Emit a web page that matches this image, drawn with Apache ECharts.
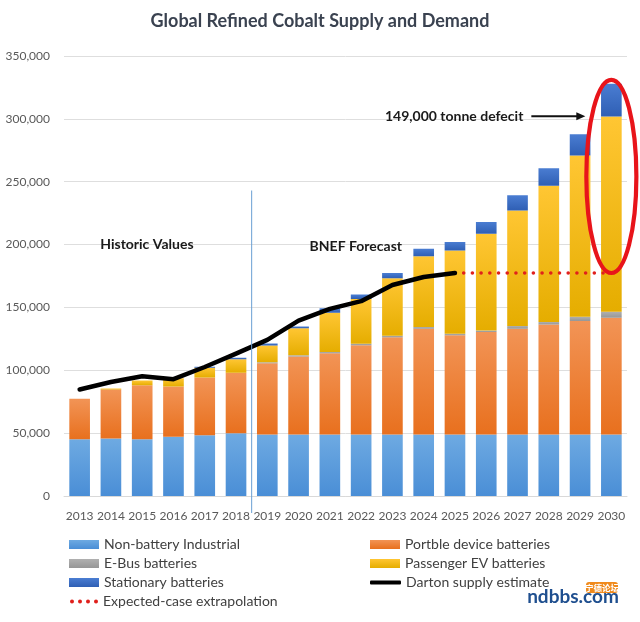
<!DOCTYPE html>
<html>
<head>
<meta charset="utf-8">
<script src="https://cdn.jsdelivr.net/npm/echarts@6/dist/echarts.min.js"></script>
<style>
html,body{margin:0;padding:0;background:#fff;}
#c{width:640px;height:622px;}
</style>
</head>
<body>
<div id="c"></div>
<script>
const years = ['2013','2014','2015','2016','2017','2018','2019','2020','2021','2022','2023','2024','2025','2026','2027','2028','2029','2030'];
const yTicks = [0,50000,100000,150000,200000,250000,300000,350000];
const nonBattery = [45200,45800,45200,47100,48400,50000,49000,49000,49000,49000,49000,49000,49000,49000,49000,49000,49000,49000];
const portable = [32100,38900,42900,40000,45800,48000,56500,61900,64500,71000,77300,84100,78800,81400,84100,87500,90200,92800];
const eBus = [0,0,0,0,0,0,800,1000,1000,1200,1200,1300,1300,1300,2100,1900,3400,4800];
const passengerEV = [0,800,3700,6600,7900,10800,13500,21600,31300,35600,45700,56300,66100,77000,92000,108400,128300,155300];
const stationary = [0,0,0,0,800,1200,1600,1300,3500,3400,4200,5900,6900,9300,12000,14000,16900,26000];
const dartonSupply = [84700,90700,95200,92900,102600,113200,124200,139500,148800,155000,167800,174200,177400,null,null,null,null,null];
const extrapolation = [null,null,null,null,null,null,null,null,null,null,null,null,177400,177400,177400,177400,177400,177400];
const deficitLabel = '149,000 tonne defecit';

const FONT = 'Lato';
function vgrad(top, bottom){
  return new echarts.graphic.LinearGradient(0,0,0,1,[{offset:0,color:top},{offset:1,color:bottom}]);
}
const chart = echarts.init(document.getElementById('c'), null, {renderer:'canvas'});
const barBase = {type:'bar', stack:'demand', barCategoryGap:'34%', z:2};
const legendText = {fontFamily:FONT, fontSize:14, color:'#404040', lineHeight:17};
chart.setOption({
  animation:false,
  backgroundColor:'#ffffff',
  title:{text:'Global Refined Cobalt Supply and Demand', left:'center', top:7,
    textStyle:{fontFamily:FONT, fontSize:18, fontWeight:'bold', color:'#3a4250'}},
  grid:{left:64, right:13, top:56, bottom:126, containLabel:false},
  legend:[
    {orient:'vertical', left:64, top:531, itemGap:2, itemWidth:30, itemHeight:9, icon:'rect',
     textStyle:legendText, data:['Non-battery Industrial','E-Bus batteries','Stationary batteries'], selectedMode:false},
    {orient:'vertical', left:65, top:588, itemGap:2, itemWidth:28, itemHeight:4,
     textStyle:legendText, selectedMode:false,
     data:[{name:'Expected-case extrapolation', icon:'path://M0,2a2,2 0 1,0 4,0a2,2 0 1,0 -4,0ZM8,2a2,2 0 1,0 4,0a2,2 0 1,0 -4,0ZM16,2a2,2 0 1,0 4,0a2,2 0 1,0 -4,0ZM24,2a2,2 0 1,0 4,0a2,2 0 1,0 -4,0Z'}]},
    {orient:'vertical', left:365, top:531, itemGap:2, itemWidth:30, itemHeight:9, icon:'rect',
     textStyle:legendText, data:['Portble device batteries','Passenger EV batteries'], selectedMode:false},
    {orient:'vertical', left:365, top:569, itemGap:2, itemWidth:31, itemHeight:4,
     textStyle:legendText, selectedMode:false,
     data:[{name:'Darton supply estimate', icon:'roundRect'}]}
  ],
  xAxis:{type:'category', data:years,
    axisLine:{show:true, lineStyle:{color:'#d9d9d9', width:1}},
    axisTick:{show:false},
    axisLabel:{fontFamily:FONT, fontSize:12, color:'#595959', margin:14, interval:0}},
  yAxis:{type:'value', min:0, max:350000, interval:50000,
    axisLine:{show:false}, axisTick:{show:false},
    splitLine:{lineStyle:{color:'#dedede', width:1}},
    axisLabel:{fontFamily:FONT, fontSize:12, color:'#595959', margin:14,
      formatter:v=> yTicks.indexOf(v) >= 0 ? (v===0?'0':v.toLocaleString('en-US')) : ''}},
  series:[
    Object.assign({}, barBase, {name:'Non-battery Industrial', data:nonBattery,
      itemStyle:{color:vgrad('#6eaae2','#4a8ed6')}}),
    Object.assign({}, barBase, {name:'Portble device batteries', data:portable,
      itemStyle:{color:vgrad('#f29456','#e8701e')}}),
    Object.assign({}, barBase, {name:'E-Bus batteries', data:eBus,
      itemStyle:{color:vgrad('#b0b0b0','#969696')}}),
    Object.assign({}, barBase, {name:'Passenger EV batteries', data:passengerEV,
      itemStyle:{color:vgrad('#ffc633','#e5ad00')}}),
    Object.assign({}, barBase, {name:'Stationary batteries', data:stationary,
      itemStyle:{color:vgrad('#4a7dd2','#2f5fb4')}}),
    {type:'line', name:'Darton supply estimate', data:dartonSupply, symbol:'none', z:5,
      color:'#000000', itemStyle:{color:'#000000'},
      lineStyle:{color:'#000000', width:4.5, cap:'round', join:'round'}},
    {type:'line', name:'Expected-case extrapolation', data:extrapolation, symbol:'none', z:4,
      color:'#e0201c', itemStyle:{color:'#e0201c'},
      lineStyle:{color:'#e0201c', width:3.6, type:[0.01,8.7], cap:'round'}}
  ]
});

// annotations positioned through the chart's own scales
const px = (i, v) => chart.convertToPixel({gridIndex:0}, [years[i], v]);
const last = years.length - 1;
const catW = px(1,0)[0] - px(0,0)[0];
const baseY = px(0,0)[1];
const sepX = (px(5,0)[0] + px(6,0)[0]) / 2;
const sepTop = px(5,243000)[1];
const total2030 = nonBattery[last] + portable[last] + eBus[last] + passengerEV[last] + stationary[last];
const eTop = px(last,total2030)[1] - 4;
const eBot = px(last,extrapolation[last])[1];
const eCx = px(last,0)[0];
const eRx = catW * 0.8;
const arrowY = px(last,302000)[1];
const arrowEnd = eCx - eRx - 1;
const arrowStart = arrowEnd - 54;
const histX = px(2,0)[0] + catW*0.15;
const histY = px(0,200000)[1];
const bnefX = px(8,0)[0] + catW*0.83;
const bnefY = px(0,198500)[1];
const annoFont = {fontFamily:FONT, fontSize:14, fontWeight:'bold', fill:'#1a1a1a'};
chart.setOption({
  graphic:[
    {type:'line', z:10, shape:{x1:sepX, y1:sepTop, x2:sepX, y2:baseY+17}, style:{stroke:'#6a9fd4', lineWidth:1}},
    {type:'ellipse', z:20, shape:{cx:eCx, cy:(eTop+eBot)/2, rx:eRx, ry:(eBot-eTop)/2},
      style:{fill:null, stroke:'#e8141a', lineWidth:4.2}},
    {type:'line', z:20, shape:{x1:arrowStart, y1:arrowY, x2:arrowEnd-7, y2:arrowY}, style:{stroke:'#111', lineWidth:2}},
    {type:'polygon', z:20, shape:{points:[[arrowEnd,arrowY],[arrowEnd-9,arrowY-4],[arrowEnd-9,arrowY+4]]}, style:{fill:'#111'}},
    {type:'text', z:20, x:arrowStart-8, y:arrowY, style:Object.assign({text:deficitLabel, align:'right', verticalAlign:'middle'}, annoFont)},
    {type:'text', z:20, x:histX, y:histY, style:Object.assign({text:'Historic Values', align:'center', verticalAlign:'middle'}, annoFont)},
    {type:'text', z:20, x:bnefX, y:bnefY, style:Object.assign({text:'BNEF Forecast', align:'center', verticalAlign:'middle'}, annoFont)},
    {type:'rect', z:20, shape:{x:586, y:582, width:32, height:11, r:3}, style:{fill:'#f08a1c'}},
    {type:'text', z:21, x:602, y:587.5, style:{text:'宁德论坛', align:'center', verticalAlign:'middle', fontFamily:'Noto Sans CJK SC', fontSize:8.5, fontWeight:'bold', fill:'#ffffff'}},
    {type:'text', z:20, x:573, y:597, style:{text:'ndbbs.com', align:'center', verticalAlign:'middle', fontFamily:FONT, fontSize:19, fontWeight:'bold', fill:'#1f4f8f'}}
  ]
});
</script>
</body>
</html>
